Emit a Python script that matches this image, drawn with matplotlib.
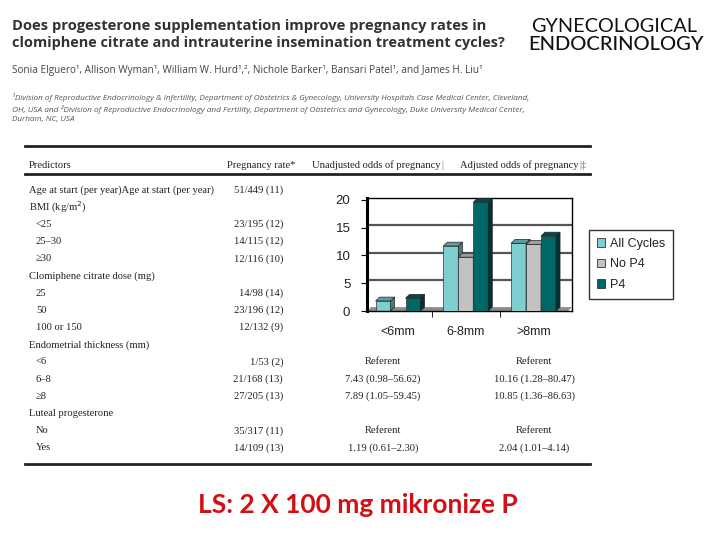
import numpy as np
import matplotlib
matplotlib.use('Agg')
import matplotlib.pyplot as plt
from matplotlib.patches import Polygon, Patch
from matplotlib.lines import Line2D

# Daten des Diagramms (Endometriumdicke vs. Schwangerschaftsrate)
groups = ['<6mm', '6-8mm', '>8mm']
series = ['All Cycles', 'No P4', 'P4']
all_cycles = [1.8, 11.7, 12.2]
no_p4 = [0.0, 9.7, 12.0]
p4 = [2.3, 19.6, 13.5]
yticks = [0, 5, 10, 15, 20]

# Tabelle
row_labels = ['Age at start (per year)Age at start (per year)', 'BMI (kg/m$^2$)', '<25', '25–30', '≥30',
              'Clomiphene citrate dose (mg)', '25', '50', '100 or 150', 'Endometrial thickness (mm)',
              '<6', '6–8', '≥8', 'Luteal progesterone', 'No', 'Yes']
row_indent = [0, 0, 1, 1, 1, 0, 1, 1, 1, 0, 1, 1, 1, 0, 1, 1]
preg_rate = ['51/449 (11)', '', '23/195 (12)', '14/115 (12)', '12/116 (10)', '', '14/98 (14)', '23/196 (12)',
             '12/132 (9)', '', '1/53 (2)', '21/168 (13)', '27/205 (13)', '', '35/317 (11)', '14/109 (13)']
unadj = [''] * 10 + ['Referent', '7.43 (0.98–56.62)', '7.89 (1.05–59.45)', '', 'Referent', '1.19 (0.61–2.30)']
adj = [''] * 10 + ['Referent', '10.16 (1.28–80.47)', '10.85 (1.36–86.63)', '', 'Referent', '2.04 (1.01–4.14)']

W, H = 720, 540
fig = plt.figure(figsize=(7.2, 5.4), dpi=100)
renderer = fig.canvas.get_renderer()


def fx(x):
    return x / W


def fy(y):
    return 1 - y / H


def fit_text(x, y, s, width, **kw):
    # Schriftgroesse an die Breite im Original anpassen
    t = fig.text(fx(x), fy(y), s, va='center', **kw)
    bb = t.get_window_extent(renderer=renderer)
    t.set_fontsize(t.get_fontsize() * width / bb.width)
    return t


# Kopfzeile
fit_text(12, 26, 'Does progesterone supplementation improve pregnancy rates in', 477,
         family='Open Sans', weight='bold', color='#333333')
fit_text(12, 43, 'clomiphene citrate and intrauterine insemination treatment cycles?', 495,
         family='Open Sans', weight='bold', color='#333333')
fit_text(531, 27, 'GYNECOLOGICAL', 164, family='Lato', weight='normal', color='#111111')
fit_text(528, 44, 'ENDOCRINOLOGY', 175, family='Lato', weight='medium', color='#111111')
fit_text(12, 70, 'Sonia Elguero¹, Allison Wyman¹, William W. Hurd¹,², Nichole Barker¹, Bansari Patel¹, and James H. Liu¹',
         470, family='Open Sans', color='#444444')
fit_text(12, 97, '¹Division of Reproductive Endocrinology & Infertility, Department of Obstetrics & Gynecology, '
         'University Hospitals Case Medical Center, Cleveland,', 522, family='Open Sans', style='italic', color='#555555')
fit_text(12, 109, 'OH, USA and ²Division of Reproductive Endocrinology and Fertility, Department of Obstetrics and '
         'Gynecology, Duke University Medical Center,', 516, family='Open Sans', style='italic', color='#555555')
fit_text(12, 120, 'Durham, NC, USA', 63, family='Open Sans', style='italic', color='#555555')

# Tabelle
tfont = dict(family='Liberation Serif', fontsize=7.6, color='#222222', va='center')
for y, lw in [(146, 2.0), (174, 2.0), (464, 2.0)]:
    fig.add_artist(Line2D([fx(25), fx(590)], [fy(y), fy(y)], color='#222222', lw=lw))
fig.text(fx(29), fy(165), 'Predictors', **tfont)
fig.text(fx(261), fy(165), 'Pregnancy rate*', ha='center', **tfont)
fig.text(fx(440), fy(165), 'Unadjusted odds of pregnancy', ha='right', **tfont)
fig.text(fx(441), fy(165), '|', ha='left', **{**tfont, 'color': '#3a6fb0'})
fig.text(fx(578), fy(165), 'Adjusted odds of pregnancy', ha='right', **tfont)
fig.text(fx(579), fy(165), '|‡', ha='left', **{**tfont, 'color': '#3a6fb0'})

for i, lab in enumerate(row_labels):
    y = 190 + 17.2 * i
    fig.text(fx(29 + 7 * row_indent[i]), fy(y), lab, **tfont)
    if preg_rate[i]:
        fig.text(fx(283), fy(y), preg_rate[i], ha='right', **tfont)
    if unadj[i]:
        fig.text(fx(383), fy(y), unadj[i], ha='center', **tfont)
    if adj[i]:
        fig.text(fx(534), fy(y), adj[i], ha='center', **tfont)

# Balkendiagramm (3D-Optik)
ax = fig.add_axes([fx(367), fy(311), (572 - 367) / W, (311 - 198) / H])
ax.set_xlim(-0.458, 2.568)
ax.set_ylim(0, 20.36)
ax.set_facecolor('white')

bw = 0.221
dx, dy = 0.06, 0.7
front = ['#80cfd0', '#c2c2c2', '#006767']
side = ['#3f7f80', '#7f7f7f', '#003434']
top = ['#5f9d9e', '#9e9e9e', '#004a4a']

x = np.arange(len(groups))
ax.add_patch(Polygon([(-0.458, 0), (-0.458 + dx, dy), (2.568, dy), (2.568 - dx, 0)],
                     closed=True, fc='#8c8c8c', ec='none', zorder=1))
for v in [5, 10, 15]:
    ax.axhline(v + 0.5, color='#555555', lw=1.6, zorder=0.5)

z = 2
for gi in range(len(groups)):
    for si, vals in enumerate([all_cycles, no_p4, p4]):
        h = vals[gi]
        if h <= 0:
            continue
        xc = x[gi] + (si - 1) * bw
        l, r = xc - bw / 2, xc + bw / 2
        ax.bar(xc, h, width=bw, color=front[si], edgecolor='#333333', lw=0.5, zorder=z)
        ax.add_patch(Polygon([(r, 0), (r + dx, dy), (r + dx, h + dy), (r, h)],
                             closed=True, fc=side[si], ec='#222222', lw=0.5, zorder=z))
        ax.add_patch(Polygon([(l, h), (l + dx, h + dy), (r + dx, h + dy), (r, h)],
                             closed=True, fc=top[si], ec='#222222', lw=0.5, zorder=z))
        z += 1

for s in ax.spines.values():
    s.set_color('black')
    s.set_linewidth(1.0)
ax.spines['left'].set_linewidth(2.2)
ax.set_yticks(yticks)
ax.set_yticklabels([str(v) for v in yticks], family='Liberation Sans', fontsize=9.5, color='#222222')
ax.set_xticks(x)
ax.set_xticklabels(groups, family='Liberation Sans', fontsize=9, color='#222222')
ax.set_xticks([0.5, 1.5], minor=True)
ax.tick_params(axis='x', which='major', length=0, pad=11)
ax.tick_params(axis='x', which='minor', length=4, direction='out', color='black')
ax.tick_params(axis='y', length=4, direction='out', pad=8)

handles = [Patch(fc=front[i], ec='#333333', lw=0.6) for i in range(3)]
ax.legend(handles, series, loc='upper left', bbox_to_anchor=(fx(589), fy(230)),
          bbox_transform=fig.transFigure, frameon=True, fancybox=False, edgecolor='black',
          prop={'family': 'Liberation Sans', 'size': 9}, handlelength=0.7, handleheight=0.7,
          handletextpad=0.4, labelspacing=0.7, borderpad=0.6, borderaxespad=0, labelcolor='#222222')

# Fusszeile
fit_text(198, 505, 'LS: 2 X 100 mg mikronize P', 320, family='Lato', weight='bold', color='#d20f14')

fig.savefig('out.png', dpi=100)
